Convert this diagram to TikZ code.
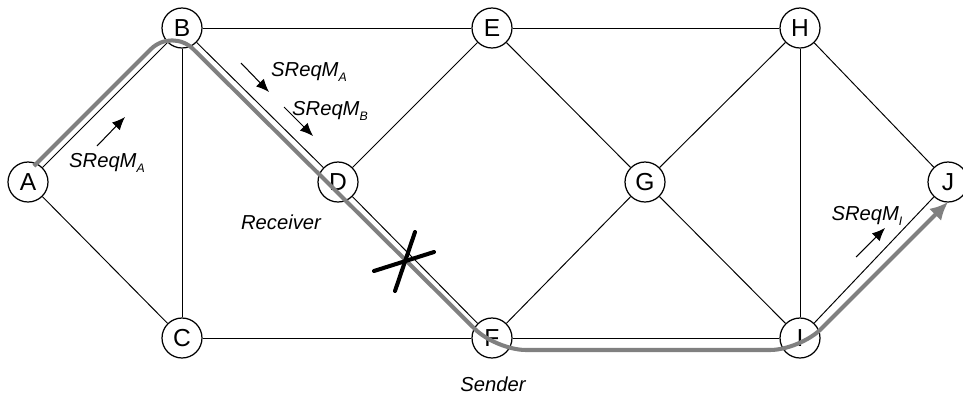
\documentclass[tikz,border=0pt]{standalone}
\usepackage{fontspec}
\setmainfont{Liberation Sans}
\usepackage{tikz}
\usetikzlibrary{arrows,arrows.meta,calc}
\usepackage{xcolor}
\definecolor{routegray}{RGB}{128,128,128}
\tikzstyle{router} = [circle, draw, line width=0.7pt, fill=white, minimum size=0.8cm, inner sep=0pt, font=\fontsize{14}{14}\selectfont]
\tikzstyle{link} = [line width=0.55pt]
\tikzstyle{route} = [draw=routegray, line width=2.3pt, rounded corners=0.6cm, -{Latex[length=0.36cm,width=0.34cm]}]
\tikzstyle{msg} = [line width=0.6pt, -{Latex[length=0.26cm,width=0.22cm]}]
\tikzstyle{tag} = [font=\fontsize{11.5}{11.5}\selectfont\itshape, inner sep=0pt]
\newcommand{\reqmsg}[1]{SReqM\raisebox{-0.5ex}{\fontsize{7}{7}\selectfont #1}}

\begin{document}
\begin{tikzpicture}[x=0.02cm, y=-0.02cm]
\useasboundingbox (0,0) rectangle (963,396);

% Routers
\node (A) [router] at (28,182) {A};
\node (B) [router] at (182,28) {B};
\node (C) [router] at (182,338) {C};
\node (D) [router] at (338,182) {D};
\node (E) [router] at (492,28) {E};
\node (F) [router] at (492,338) {F};
\node (G) [router] at (645,182) {G};
\node (H) [router] at (800,28) {H};
\node (I) [router] at (800,338) {I};
\node (J) [router] at (948,182) {J};

% Links
\foreach \a/\b in {A/B,A/C,B/C,B/E,B/D,C/F,D/E,D/F,E/G,E/H,F/G,F/I,G/H,G/I,H/I,H/J,I/J}
  \draw[link] (\a) -- (\b);

% Route of the request
\draw[route] ($(A)+(6,-16)$) -- ($(B)+(-10,0)$) -- ($(F)+(4,12)$) -- ($(I)+(0,12)$) -- ($(J)+(0,20)$);

% Broken link
\coordinate (cut) at (405,260);
\draw[line width=2.3pt, line cap=round] ($(cut)+(-31,11)$) -- ($(cut)+(29,-8)$);
\draw[line width=2.3pt, line cap=round] ($(cut)+(10,-28)$) -- ($(cut)+(-10,31)$);

% Request messages
\coordinate (m1s) at (97,146);  \coordinate (m1e) at (125,117);
\coordinate (m2s) at (241,63);  \coordinate (m2e) at (269,92);
\coordinate (m3s) at (284,107); \coordinate (m3e) at (313,136);
\coordinate (m4s) at (856,257); \coordinate (m4e) at (885,228);
\draw[msg] (m1s) -- (m1e);
\draw[msg] (m2s) -- (m2e);
\draw[msg] (m3s) -- (m3e);
\draw[msg] (m4s) -- (m4e);
\node (lblAB) [tag] at (107,163) {\reqmsg{A}};
\node (lblBD1) [tag] at (309,72) {\reqmsg{A}};
\node (lblBD2) [tag] at (330,111) {\reqmsg{B}};
\node (lblIJ) [tag] at (867,216) {\reqmsg{I}};

% Roles
\node (recv) [tag] at (281,222) {Receiver};
\node (send) [tag] at (493,384) {Sender};
\end{tikzpicture}
\end{document}
